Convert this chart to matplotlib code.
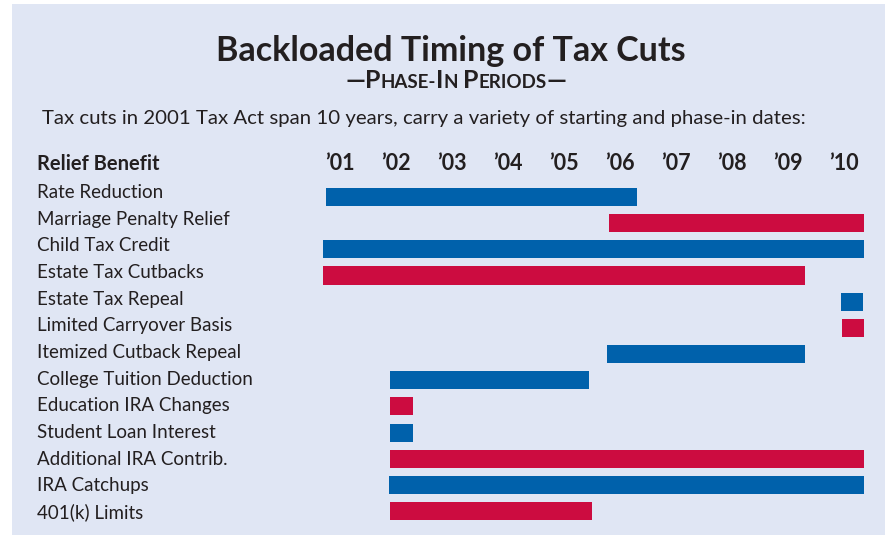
import matplotlib
matplotlib.use("Agg")
import matplotlib.pyplot as plt
from matplotlib.patches import Rectangle
from matplotlib.transforms import blended_transform_factory

# ---- data ----
benefits = ["Rate Reduction", "Marriage Penalty Relief", "Child Tax Credit",
            "Estate Tax Cutbacks", "Estate Tax Repeal", "Limited Carryover Basis",
            "Itemized Cutback Repeal", "College Tuition Deduction",
            "Education IRA Changes", "Student Loan Interest",
            "Additional IRA Contrib.", "IRA Catchups", "401(k) Limits"]
start_year = [2001.25, 2006.3, 2001.2, 2001.2, 2010.45, 2010.47, 2006.27,
              2002.4, 2002.4, 2002.4, 2002.4, 2002.38, 2002.4]
end_year = [2006.8, 2010.86, 2010.86, 2009.8, 2010.84, 2010.86, 2009.8,
            2005.94, 2002.8, 2002.8, 2010.86, 2010.86, 2006.0]
bar_colors = ["blue", "red", "blue", "red", "blue", "red", "blue",
              "blue", "red", "blue", "red", "blue", "red"]
years = list(range(2001, 2011))
year_labels = ["\u2019%02d" % (y % 100) for y in years]

title = "Backloaded Timing of Tax Cuts"
description = "Tax cuts in 2001 Tax Act span 10 years, carry a variety of starting and phase-in dates:"
header = "Relief Benefit"

BLUE = "#0061ab"
RED = "#cc0c40"
BG = "#e0e6f4"
TXT = "#231f20"
palette = {"blue": BLUE, "red": RED}

W, H = 885, 535
fig = plt.figure(figsize=(W / 100, H / 100), dpi=100)
fig.patch.set_facecolor("white")

# overlay axes in pixel coordinates
tx = fig.add_axes([0, 0, 1, 1])
tx.set_xlim(0, W)
tx.set_ylim(H, 0)
tx.axis("off")
tx.add_patch(Rectangle((12, 4), W - 12, H - 4, facecolor=BG, edgecolor="none", zorder=0))

FONT = "Lato"

# bar axes: x in years, y in row index
x0_px, px_per_year = 312, 56.0
row0_px, row_step_px = 197.0, 26.17
n = len(benefits)
top_px = row0_px - 0.5 * row_step_px
bot_px = row0_px + (n - 0.5) * row_step_px
ax = fig.add_axes([x0_px / W, 1 - bot_px / H, 10 * px_per_year / W, (bot_px - top_px) / H])
ax.set_xlim(2001, 2011)
ax.set_ylim(n - 0.5, -0.5)
ax.axis("off")
ax.patch.set_alpha(0)

for i in range(n):
    ax.barh(i, end_year[i] - start_year[i], left=start_year[i], height=0.69,
            color=palette[bar_colors[i]], edgecolor="none")

# title
tx.text(451, 61, title, ha="center", va="baseline", fontsize=24.5, fontweight="bold",
        family=FONT, color=TXT)

# small-caps subtitle
pieces = [("\u2014P", 18), ("HASE-", 13.5), ("I", 18), ("N ", 13.5), ("P", 18),
          ("ERIODS", 13.5), ("\u2014", 18)]
renderer = fig.canvas.get_renderer()
objs = []
for s, fs in pieces:
    t = tx.text(0, 88, s, ha="left", va="baseline", fontsize=fs, fontweight="bold",
                family=FONT, color=TXT)
    objs.append(t)
widths = []
for t in objs:
    bb = t.get_window_extent(renderer=renderer)
    widths.append(bb.width)
total = sum(widths)
x = 456 - total / 2
for t, w in zip(objs, widths):
    t.set_x(x)
    x += w

# description
tx.text(42, 124, description, ha="left", va="baseline", fontsize=14.7, family=FONT, color=TXT)

# header
tx.text(37, 170, header, ha="left", va="baseline", fontsize=14.5, fontweight="bold",
        family=FONT, color=TXT)
btr = blended_transform_factory(ax.transData, tx.transData)
for y, lab in zip(years, year_labels):
    ax.text(y + 0.5, 170, lab, transform=btr, ha="center", va="baseline", fontsize=15.5,
            fontweight="bold", family=FONT, color=TXT)

# row labels
lab0, lab_step = 198.0, 26.67
for i, b in enumerate(benefits):
    tx.text(37, lab0 + i * lab_step, b, ha="left", va="baseline", fontsize=13.5,
            family=FONT, color=TXT)

fig.savefig("out.png", dpi=100, facecolor="white")
